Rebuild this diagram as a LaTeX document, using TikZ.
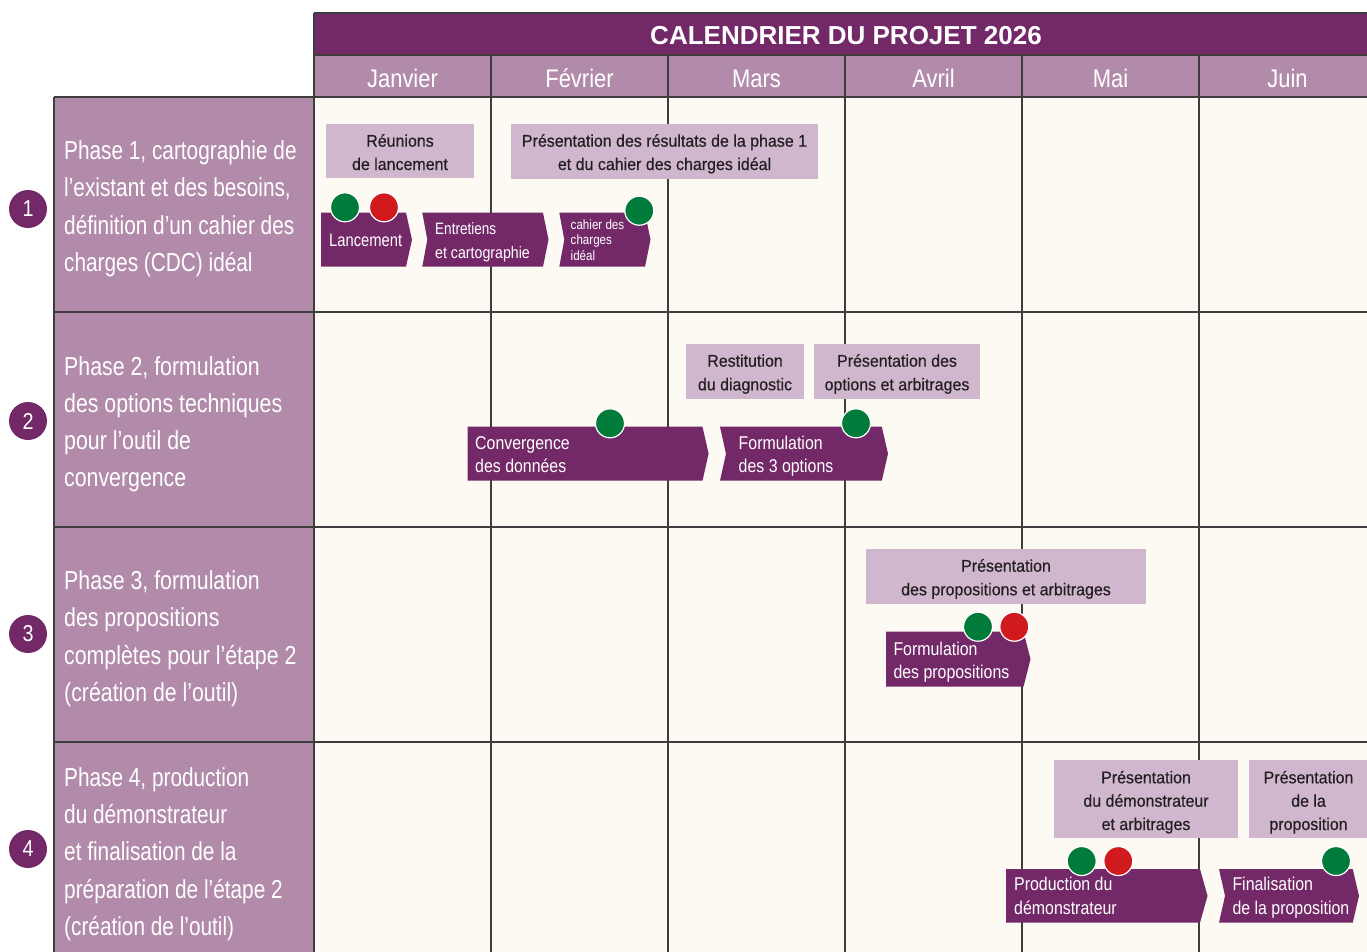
\documentclass[tikz,border=0pt]{standalone}
\usepackage{fontspec}
\setmainfont{Liberation Sans}
\newfontfamily\phasefont{Liberation Sans}[FakeStretch=0.8]
\newfontfamily\phasefontb{Liberation Sans}[FakeStretch=0.82]
\newfontfamily\monthfont{Liberation Sans}[FakeStretch=0.86]
\newfontfamily\boxfont{Liberation Sans}[FakeStretch=0.94,FakeBold=0.4]
\newfontfamily\arrowfont{Liberation Sans}[FakeStretch=0.86]
\newfontfamily\narrowfont{Liberation Sans}[FakeStretch=0.82]
\definecolor{dpurple}{HTML}{732868}
\definecolor{mpurple}{HTML}{B28BAA}
\definecolor{lpurple}{HTML}{D1B7CE}
\definecolor{cream}{HTML}{FDFAF4}
\definecolor{greenc}{HTML}{007B3A}
\definecolor{redc}{HTML}{D11A1E}
\definecolor{gridc}{HTML}{3D3D3D}
\definecolor{textc}{HTML}{231F20}
\newcommand\chev[6]{%
  \fill[dpurple] (#1,#4) -- (#2,#4) -- (#3,{(#4+#5)/2}) -- (#2,#5) -- (#1,#5) -- ({#1+#6},{(#4+#5)/2}) -- cycle;}
\tikzset{
  gridline/.style={draw=gridc, line width=1.2pt},
  ptxt/.style={anchor=base west, inner sep=0, text=white, font=\phasefont\fontsize{26}{30}\selectfont},
  ptxtb/.style={anchor=base west, inner sep=0, text=white, font=\phasefontb\fontsize{26}{30}\selectfont},
  mtxt/.style={anchor=base, inner sep=0, text=white, font=\monthfont\fontsize{25.5}{30}\selectfont},
  btxt/.style={anchor=base, inner sep=0, text=textc, font=\boxfont\fontsize{17}{20}\selectfont},
  atxt/.style={anchor=base west, inner sep=0, text=white, font=\arrowfont\fontsize{18.5}{22}\selectfont},
  ntxt/.style={anchor=base west, inner sep=0, text=white, font=\narrowfont\fontsize{18}{22}\selectfont},
  gdot/.style={circle, fill=greenc, draw=white, line width=1.2pt, minimum size=29pt, inner sep=0},
  rdot/.style={circle, fill=redc, draw=white, line width=1.2pt, minimum size=29pt, inner sep=0},
  numc/.style={circle, fill=dpurple, minimum size=38pt, inner sep=0, text=white, font=\monthfont\fontsize{23}{26}\selectfont},
}
\begin{document}
\begin{tikzpicture}[x=1pt, y=-1pt]
\useasboundingbox (0,0) rectangle (1367,951);
\clip (0,0) rectangle (1367,951);
% backgrounds
\fill[white] (0,0) rectangle (1367,951);
\fill[cream] (314,97) rectangle (1380,960);
\fill[mpurple] (54,97) rectangle (314,960);
\fill[mpurple] (314,55) rectangle (1380,97);
\fill[dpurple] (314,13) rectangle (1380,55);
% grid
\draw[gridline] (314,13) -- (1380,13);
\draw[gridline] (314,13) -- (314,960);
\draw[gridline] (314,55) -- (1380,55);
\draw[gridline] (54,97) -- (1380,97);
\draw[gridline] (54,97) -- (54,960);
\foreach \x in {491,668,845,1022,1199} \draw[gridline] (\x,55) -- (\x,960);
\foreach \y in {312,527,742} \draw[gridline] (54,\y) -- (1380,\y);
% title and months
\node[anchor=base, inner sep=0, text=white, font=\bfseries\fontsize{26}{30}\selectfont] (title) at (846,44) {CALENDRIER DU PROJET 2026};
\node[mtxt] (m1) at (402.5,87) {Janvier};
\node[mtxt] (m2) at (579.5,87) {Février};
\node[mtxt] (m3) at (756.5,87) {Mars};
\node[mtxt] (m4) at (933.5,87) {Avril};
\node[mtxt] (m5) at (1110.5,87) {Mai};
\node[mtxt] (m6) at (1287.5,87) {Juin};
% phase labels
\node[numc] (n1) at (28,209) {1};
\node[numc] (n2) at (28,421) {2};
\node[numc] (n3) at (28,634) {3};
\node[numc] (n4) at (28,849) {4};
\node[ptxt] (p1a) at (64,159.3) {Phase 1, cartographie de};
\node[ptxt] (p1b) at (64,196.8) {l’existant et des besoins,};
\node[ptxt] (p1c) at (64,234.3) {définition d’un cahier des};
\node[ptxt] (p1d) at (64,271.8) {charges (CDC) idéal};
\node[ptxtb] (p2a) at (64,375) {Phase 2, formulation};
\node[ptxtb] (p2b) at (64,412.3) {des options techniques};
\node[ptxtb] (p2c) at (64,449.6) {pour l’outil de};
\node[ptxtb] (p2d) at (64,486.9) {convergence};
\node[ptxtb] (p3a) at (64,589.5) {Phase 3, formulation};
\node[ptxtb] (p3b) at (64,626.8) {des propositions};
\node[ptxtb] (p3c) at (64,664.1) {complètes pour l’étape 2};
\node[ptxtb] (p3d) at (64,701.4) {(création de l’outil)};
\node[ptxt] (p4a) at (64,786) {Phase 4, production};
\node[ptxt] (p4b) at (64,823.4) {du démonstrateur};
\node[ptxt] (p4c) at (64,860.8) {et finalisation de la};
\node[ptxt] (p4d) at (64,898.2) {préparation de l’étape 2};
\node[ptxt] (p4e) at (64,935.6) {(création de l’outil)};
% light boxes
\fill[lpurple] (326,124) rectangle (474,178);
\fill[lpurple] (511,124) rectangle (818,179);
\fill[lpurple] (686,344) rectangle (804,399);
\fill[lpurple] (814,344) rectangle (980,399);
\fill[lpurple] (866,549) rectangle (1146,604);
\fill[lpurple] (1054,760) rectangle (1238,838);
\fill[lpurple] (1249,760) rectangle (1370,838);
\node[btxt] (b1a) at (400,146.7) {Réunions};
\node[btxt] (b1b) at (400,170) {de lancement};
\node[btxt] (b2a) at (664.5,146.7) {Présentation des résultats de la phase 1};
\node[btxt] (b2b) at (664.5,170) {et du cahier des charges idéal};
\node[btxt] (b3a) at (745,366.7) {Restitution};
\node[btxt] (b3b) at (745,390.3) {du diagnostic};
\node[btxt] (b4a) at (897,366.7) {Présentation des};
\node[btxt] (b4b) at (897,390.3) {options et arbitrages};
\node[btxt] (b5a) at (1006,571.7) {Présentation};
\node[btxt] (b5b) at (1006,595.3) {des propositions et arbitrages};
\node[btxt] (b6a) at (1146,783.3) {Présentation};
\node[btxt] (b6b) at (1146,806.7) {du démonstrateur};
\node[btxt] (b6c) at (1146,830) {et arbitrages};
\node[btxt] (b7a) at (1308.5,783.3) {Présentation};
\node[btxt] (b7b) at (1308.5,806.7) {de la};
\node[btxt] (b7c) at (1308.5,830) {proposition};
% chevrons
\chev{321}{406}{412}{212.7}{266.7}{0}
\chev{422.3}{543}{548.5}{212.7}{266.7}{5}
\chev{559.3}{645}{650.5}{212.7}{266.7}{5}
\chev{467.5}{702.5}{708.6}{426.7}{480.7}{0}
\chev{720}{881.8}{888}{426.7}{480.7}{6}
\chev{886}{1023.5}{1030.5}{631.7}{686.7}{0}
\chev{1006}{1200}{1207.5}{869}{922.7}{0}
\chev{1219}{1352.7}{1359}{869}{922.7}{6}
% arrow texts
\node[ntxt] (a1) at (329,246.5) {Lancement};
\node[ntxt, font=\narrowfont\fontsize{16.5}{20}\selectfont] (a2a) at (435,234.3) {Entretiens};
\node[ntxt, font=\arrowfont\fontsize{16.5}{20}\selectfont] (a2b) at (435,258) {et cartographie};
\node[ntxt, font=\arrowfont\fontsize{13.5}{16}\selectfont] (a3a) at (570.5,229) {cahier des};
\node[ntxt, font=\arrowfont\fontsize{13.5}{16}\selectfont] (a3b) at (570.5,244.5) {charges};
\node[ntxt, font=\arrowfont\fontsize{13.5}{16}\selectfont] (a3c) at (570.5,260) {idéal};
\node[atxt] (a4a) at (475,449.3) {Convergence};
\node[atxt] (a4b) at (475,472.7) {des données};
\node[atxt] (a5a) at (738.5,449.3) {Formulation};
\node[atxt] (a5b) at (738.5,472.7) {des 3 options};
\node[atxt] (a6a) at (893.3,655) {Formulation};
\node[atxt] (a6b) at (893.3,678.5) {des propositions};
\node[atxt] (a7a) at (1014,890) {Production du};
\node[atxt] (a7b) at (1014,914) {démonstrateur};
\node[atxt] (a8a) at (1232.3,890) {Finalisation};
\node[atxt] (a8b) at (1232.3,914) {de la proposition};
% milestones
\node[gdot] (d1) at (345,207.3) {};
\node[rdot] (d2) at (384,207.3) {};
\node[gdot] (d3) at (639.3,210.7) {};
\node[gdot] (d4) at (610,423.3) {};
\node[gdot] (d5) at (856,423.3) {};
\node[gdot] (d6) at (978,626.7) {};
\node[rdot] (d7) at (1014.3,626.7) {};
\node[gdot] (d8) at (1081.7,861) {};
\node[rdot] (d9) at (1118.3,861) {};
\node[gdot] (d10) at (1336,861) {};
\end{tikzpicture}
\end{document}
